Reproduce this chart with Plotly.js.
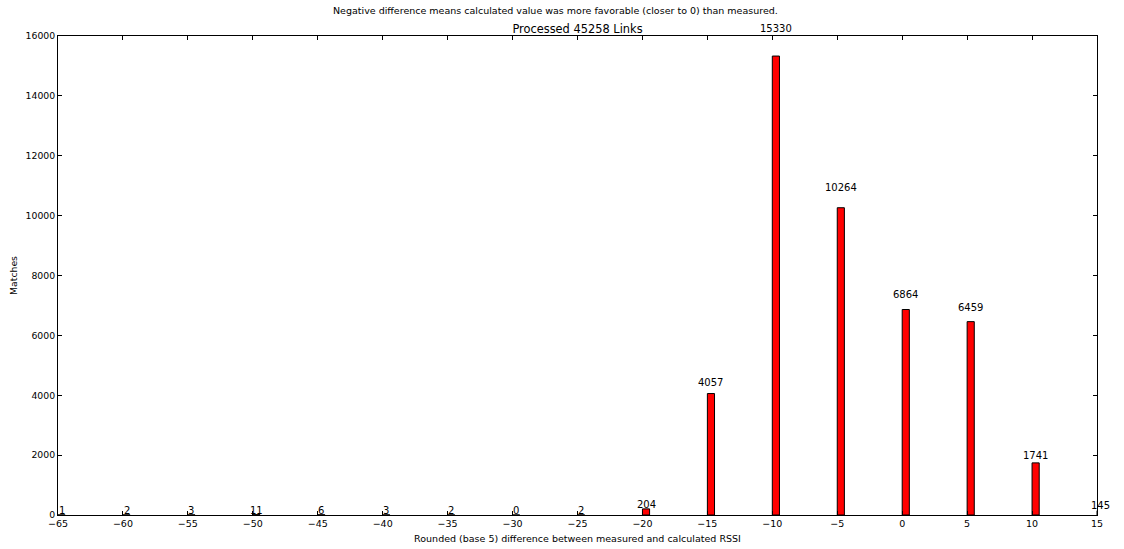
<!DOCTYPE html>
<html>
<head>
<meta charset="utf-8">
<script src="https://cdn.plot.ly/plotly-3.0.1.min.js"></script>
<style>html,body{margin:0;padding:0;background:#fff;}#chart{width:1124px;height:549px;}</style>
</head>
<body>
<div id="chart"></div>
<script>
var diffs = [-65, -60, -55, -50, -45, -40, -35, -30, -25, -20, -15, -10, -5, 0, 5, 10, 15];
var matches = [1, 2, 3, 11, 6, 3, 2, 0, 2, 204, 4057, 15330, 10264, 6864, 6459, 1741, 145];
var xTicks = [-65, -60, -55, -50, -45, -40, -35, -30, -25, -20, -15, -10, -5, 0, 5, 10, 15];
var yTicks = [0, 2000, 4000, 6000, 8000, 10000, 12000, 14000, 16000];

var barWidth = 0.55;
var xMin = -65, xMax = 15, yMin = 0, yMax = 16000;
var font = "DejaVu Sans, Liberation Sans, sans-serif";

var trace = {
  type: 'bar',
  x: diffs,
  y: matches,
  width: barWidth,
  offset: 0,
  marker: {color: '#ff0000', line: {color: '#000000', width: 1}},
  hoverinfo: 'x+y'
};

var annotations = diffs.map(function (d, i) {
  return {
    xref: 'paper', yref: 'paper',
    x: (d + barWidth / 2 - xMin) / (xMax - xMin),
    y: (1.05 * matches[i] - yMin) / (yMax - yMin),
    yshift: -3,
    text: String(matches[i]),
    showarrow: false,
    xanchor: 'center', yanchor: 'bottom',
    font: {family: font, size: 10, color: '#000'}
  };
});
annotations.push({
  xref: 'paper', yref: 'paper', x: 0.479, y: 1, yshift: 18,
  text: 'Negative difference means calculated value was more favorable (closer to 0) than measured.',
  showarrow: false, xanchor: 'center', yanchor: 'bottom',
  font: {family: font, size: 9.5, color: '#000'}
});

var layout = {
  width: 1124, height: 549,
  margin: {l: 58, r: 27, t: 36, b: 34},
  paper_bgcolor: '#fff', plot_bgcolor: '#fff',
  showlegend: false,
  title: {text: 'Processed 45258 Links', x: 0.5, xref: 'paper', y: 1, yref: 'paper', yanchor: 'bottom', pad: {b: 3},
          font: {family: font, size: 11.4, color: '#000'}},
  xaxis: {
    range: [xMin, xMax], tickmode: 'array', tickvals: xTicks,
    ticktext: xTicks.map(function(v){return v < 0 ? '\u2212' + (-v) : String(v);}),
    ticks: 'inside', ticklen: 4, tickcolor: '#000', mirror: 'ticks', showline: true, linecolor: '#000', linewidth: 1,
    showgrid: false, zeroline: false,
    tickfont: {family: font, size: 9.5, color: '#000'},
    title: {text: 'Rounded (base 5) difference between measured and calculated RSSI', standoff: 6, font: {family: font, size: 9.5, color: '#000'}}
  },
  yaxis: {
    range: [yMin, yMax], tickmode: 'array', tickvals: yTicks, ticktext: yTicks.map(String),
    ticks: 'inside', ticklen: 4, tickcolor: '#000', mirror: 'ticks', showline: true, linecolor: '#000', linewidth: 1,
    showgrid: false, zeroline: false,
    tickfont: {family: font, size: 9.3, color: '#000'},
    title: {text: 'Matches', standoff: 6, font: {family: font, size: 9.3, color: '#000'}}
  },
  annotations: annotations
};

Plotly.newPlot('chart', [trace], layout, {displayModeBar: false, staticPlot: true});
</script>
</body>
</html>
